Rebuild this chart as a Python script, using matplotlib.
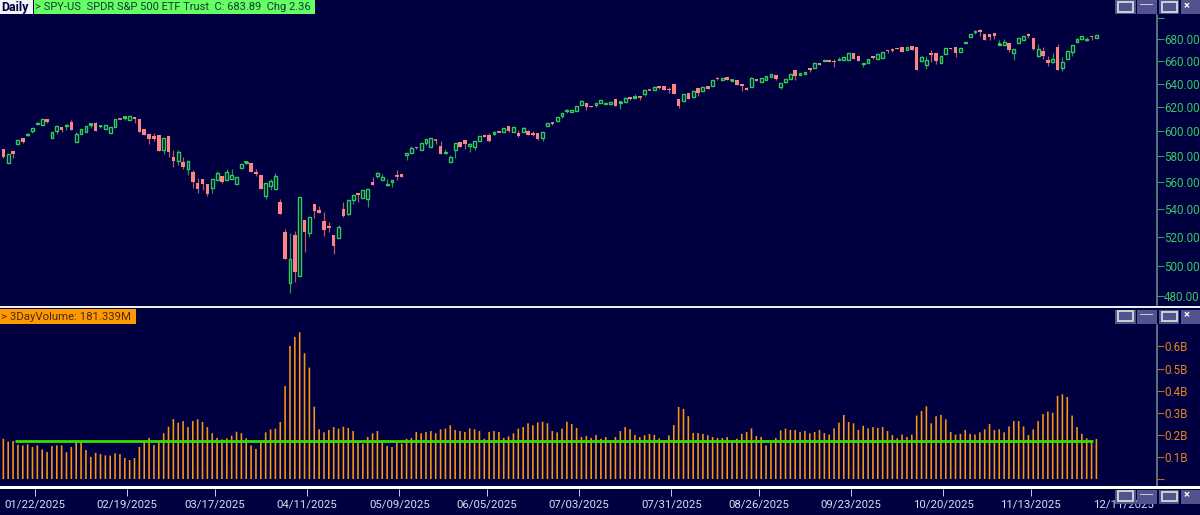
import numpy as np
import matplotlib
matplotlib.use("Agg")
import matplotlib.pyplot as plt
from matplotlib.patches import Rectangle
from matplotlib.ticker import NullLocator

# SPY daily bars, oldest first
opens = [
    585.8,575.1,584.5,589.6,594.4,596.8,600.2,605.8,605.3,609.9,
    594.6,600.0,603.3,604.0,607.7,591.7,597.6,599.5,605.5,606.9,
    604.0,602.2,598.9,603.9,610.2,611.0,609.6,611.8,610.2,602.2,
    597.6,596.3,597.1,585.0,596.5,579.8,576.4,575.6,570.5,567.9,
    559.7,562.3,558.7,556.0,562.0,564.8,562.0,562.8,558.7,570.7,
    575.1,575.1,567.9,565.6,549.5,557.2,554.7,545.5,523.8,488.8,
    521.7,493.0,532.1,523.1,544.0,539.6,531.4,527.8,521.2,519.6,
    540.1,536.7,546.5,552.2,548.5,547.5,560.2,564.6,562.0,557.7,
    560.0,565.6,566.6,581.4,582.9,587.7,585.3,590.4,587.7,593.3,
    587.9,582.4,575.9,585.3,591.2,593.0,588.5,587.1,592.0,597.1,
    597.3,598.1,600.0,599.8,604.2,599.5,598.7,599.8,600.0,598.7,
    598.4,594.9,604.0,608.0,608.8,612.7,616.6,615.7,617.1,622.2,
    623.3,621.3,621.9,623.3,622.5,622.5,627.2,623.6,624.1,629.0,
    628.1,629.2,631.3,634.7,634.7,637.8,638.4,635.8,639.8,626.7,
    625.5,631.8,628.7,636.4,633.3,637.8,638.1,645.1,643.0,645.7,
    642.7,643.0,639.5,636.7,637.5,644.2,641.9,643.6,646.0,647.4,
    637.5,641.9,643.9,651.8,648.0,648.3,653.5,654.1,658.0,659.8,
    661.3,660.1,661.3,661.3,661.3,666.9,664.8,657.1,658.6,664.5,
    662.2,662.7,669.9,670.2,671.4,672.3,669.6,673.6,672.6,660.1,
    656.8,667.2,667.2,658.6,666.6,671.7,672.3,667.8,676.0,682.1,
    686.1,688.3,684.6,684.9,685.5,674.8,674.5,676.3,667.5,676.0,
    679.4,684.6,680.6,664.8,669.3,661.3,658.9,672.6,654.1,662.2,
    668.1,677.2,680.3,679.1,682.9,680.6,
]
highs = [
    585.8,581.6,584.5,592.8,594.4,598.7,603.1,607.7,609.9,609.9,
    599.2,604.4,603.3,606.3,609.4,599.8,601.7,604.2,606.1,607.4,
    604.7,605.5,603.3,609.9,610.7,611.6,612.9,611.8,610.2,602.2,
    597.6,598.7,597.1,594.6,596.5,584.7,584.7,579.8,576.2,569.4,
    563.3,562.3,558.7,562.5,568.9,564.8,570.2,570.0,563.8,574.3,
    575.4,575.1,570.2,565.6,559.2,562.5,566.9,547.7,525.4,522.6,
    524.3,548.7,532.1,534.3,544.0,542.6,537.7,530.7,521.2,528.3,
    545.2,546.5,550.2,552.2,554.5,554.7,563.8,567.6,566.1,562.5,
    562.0,569.4,566.6,582.4,587.9,587.7,590.4,594.1,594.9,594.1,
    592.0,585.8,580.8,590.9,591.2,593.0,590.6,592.2,596.0,597.1,
    598.4,600.3,600.0,602.8,604.2,603.3,601.4,603.3,601.1,600.6,
    598.4,599.8,606.9,608.0,611.6,614.9,618.8,617.7,620.8,626.1,
    623.3,621.3,623.9,625.8,623.6,624.7,627.2,624.1,627.8,629.0,
    631.3,629.2,634.5,635.8,637.0,637.8,638.4,637.3,639.8,626.7,
    631.0,631.8,633.3,636.4,637.0,637.8,643.0,645.7,644.8,645.7,
    643.0,643.0,639.5,637.3,645.7,644.2,644.8,646.5,648.9,647.4,
    640.4,643.9,648.9,651.8,649.2,650.3,653.5,658.0,658.0,661.0,
    661.3,661.6,663.8,663.5,666.9,666.9,664.8,658.0,661.9,664.5,
    666.0,668.1,669.9,672.0,671.4,672.3,672.9,673.6,672.6,664.2,
    664.8,669.6,667.2,664.8,671.4,671.7,672.3,671.4,677.2,684.9,
    688.7,689.2,684.6,684.9,685.5,679.1,679.7,676.3,670.5,681.2,
    682.4,685.5,680.6,675.1,672.9,664.2,666.9,675.4,663.8,668.7,
    674.9,680.6,683.1,681.8,683.1,683.89,
]
lows = [
    579.0,575.1,579.0,589.6,590.6,596.0,598.9,605.8,605.3,606.9,
    594.6,597.9,599.5,600.9,601.4,591.2,597.6,599.5,602.5,600.0,
    602.8,602.2,598.9,603.9,609.9,609.1,609.6,606.9,599.5,596.8,
    589.6,592.2,584.5,581.9,579.8,572.0,573.3,570.5,565.6,556.0,
    552.2,554.2,550.0,552.0,562.0,559.2,562.0,562.8,558.7,570.7,
    574.3,567.9,565.1,555.2,547.2,554.2,554.7,536.7,505.0,481.7,
    489.2,493.0,509.5,520.0,533.8,537.4,520.7,523.8,508.4,519.6,
    534.0,535.5,543.8,545.0,548.5,541.8,558.2,563.6,562.0,557.2,
    556.5,561.8,563.8,577.2,582.9,585.5,585.3,589.3,587.7,589.6,
    581.6,581.6,575.9,579.0,587.1,585.8,583.7,585.0,592.0,595.7,
    591.7,596.8,599.2,599.8,599.5,599.5,595.5,599.8,597.1,596.0,
    593.0,592.0,604.0,605.5,608.8,610.7,615.2,615.7,617.1,622.2,
    617.7,619.9,620.5,623.3,622.5,622.5,621.3,618.5,624.1,626.4,
    628.1,626.1,629.8,634.2,634.7,635.8,634.7,632.1,631.3,619.6,
    625.5,627.2,628.7,629.6,633.3,635.2,638.1,643.3,643.0,643.3,
    642.7,639.3,633.3,634.2,637.5,642.2,641.9,643.6,646.0,643.3,
    635.2,640.4,643.9,643.3,648.0,648.3,650.3,654.1,656.8,659.8,
    659.5,654.7,661.3,660.7,661.3,662.2,660.4,654.4,658.6,661.6,
    662.2,662.7,666.9,668.1,670.5,667.8,669.6,670.2,652.3,660.1,
    652.9,659.5,657.4,658.6,666.6,670.5,663.3,667.8,676.0,682.1,
    684.9,682.8,679.4,679.1,680.0,674.8,674.5,668.4,661.3,676.0,
    679.4,680.9,670.2,663.3,662.2,655.6,657.8,651.8,651.2,662.2,
    664.8,677.2,680.3,677.9,679.1,680.6,
]
closes = [
    579.8,581.6,581.9,592.8,591.4,597.6,603.1,606.6,609.9,607.7,
    599.2,604.4,601.4,605.0,601.4,597.9,601.7,604.2,606.1,600.0,
    604.7,605.5,603.3,609.9,609.9,611.6,612.9,610.2,599.5,596.8,
    594.1,593.8,584.5,594.6,583.4,576.2,583.4,572.0,576.2,560.2,
    555.2,558.7,551.2,562.5,567.4,560.5,567.6,565.3,563.8,574.3,
    575.4,567.9,566.6,555.2,559.2,561.0,564.6,536.7,505.0,504.5,
    495.9,548.7,523.8,534.3,538.9,537.4,525.0,526.2,513.9,527.1,
    534.7,546.5,550.2,550.7,554.5,554.7,558.2,567.1,564.1,558.7,
    562.0,565.1,563.8,582.4,586.9,586.3,590.4,594.1,594.9,592.8,
    582.1,583.4,579.3,590.9,587.1,589.8,589.6,592.2,596.0,595.7,
    592.5,599.2,599.2,602.8,600.3,603.3,596.3,602.5,597.1,596.8,
    593.8,599.8,606.9,607.2,611.6,614.9,617.7,617.7,620.8,625.3,
    620.2,619.9,623.9,625.8,623.6,624.7,621.3,624.1,627.8,627.2,
    628.7,628.7,634.5,634.2,637.0,636.7,634.7,634.2,631.3,621.0,
    631.0,627.2,633.3,632.1,637.0,635.2,643.0,644.2,644.8,643.3,
    643.0,639.3,638.1,634.9,644.8,642.2,644.8,646.5,648.9,644.5,
    640.4,643.9,648.9,646.8,649.2,650.3,651.8,658.0,656.8,661.0,
    659.5,658.9,662.2,663.5,666.9,662.2,660.4,658.0,661.9,663.0,
    666.0,668.1,669.0,669.6,670.5,667.8,672.9,670.2,652.3,663.3,
    661.3,665.1,659.8,664.8,671.4,670.5,667.5,671.4,677.2,684.9,
    687.4,686.8,679.4,681.8,682.4,675.4,677.5,669.6,670.5,681.2,
    682.4,682.8,671.1,671.1,664.5,658.6,662.2,651.8,658.9,668.7,
    674.9,679.7,683.1,680.3,681.53,683.89,
]

# 3 day volume in billions of shares
volume = [
    .182,.169,.172,.155,.152,.157,.145,.152,.134,.122,
    .149,.152,.152,.121,.145,.170,.170,.131,.100,.118,
    .113,.107,.106,.116,.113,.095,.086,.095,.145,.170,
    .186,.154,.170,.207,.237,.271,.255,.262,.235,.262,
    .270,.258,.235,.207,.186,.179,.184,.196,.214,.207,
    .184,.152,.136,.169,.211,.225,.228,.258,.421,.602,
    .643,.664,.569,.504,.327,.225,.211,.222,.235,.228,
    .237,.231,.217,.169,.160,.190,.207,.217,.166,.149,
    .145,.169,.160,.182,.186,.213,.207,.213,.217,.207,
    .225,.228,.243,.222,.217,.213,.229,.225,.217,.182,
    .213,.217,.213,.186,.193,.207,.228,.235,.252,.243,
    .256,.259,.252,.217,.211,.228,.259,.249,.231,.190,
    .195,.186,.199,.182,.190,.175,.190,.217,.235,.225,
    .199,.190,.198,.204,.199,.184,.175,.198,.244,.326,
    .317,.284,.208,.208,.204,.198,.190,.186,.186,.190,
    .172,.182,.204,.213,.229,.195,.190,.152,.163,.186,
    .220,.228,.222,.222,.213,.217,.207,.213,.222,.208,
    .201,.229,.255,.290,.258,.252,.222,.241,.229,.235,
    .231,.235,.217,.199,.184,.201,.190,.201,.287,.308,
    .329,.252,.284,.290,.270,.213,.201,.204,.222,.204,
    .201,.211,.225,.249,.222,.225,.211,.238,.262,.262,
    .238,.199,.225,.262,.294,.305,.300,.376,.383,.371,
    .287,.235,.204,.184,.176,.181339,
]
avg_volume = 0.174

price_ticks = [480, 500, 520, 540, 560, 580, 600, 620, 640, 660, 680, 700]
volume_ticks = [0, 0.1, 0.2, 0.3, 0.4, 0.5, 0.6]
date_labels = ["01/22/2025", "02/19/2025", "03/17/2025", "04/11/2025", "05/09/2025",
               "06/05/2025", "07/03/2025", "07/31/2025", "08/26/2025", "09/23/2025",
               "10/20/2025", "11/13/2025", "12/11/2025"]
date_bars = [6.5, 25.5, 43.5, 62.5, 81.5, 99.5, 118.5, 137.5, 155.5, 174.5, 193.5, 211.5, 230.5]

W, H = 1200, 515
BG = "#000040"
AXIS_X = 1157
px = 0.72  # points per pixel at dpi 100

plt.rcParams["font.family"] = ["Roboto", "DejaVu Sans"]


def fig_box(x0, y0, x1, y1):
    # pixel box, y measured from the top edge
    return [x0 / W, 1 - y1 / H, (x1 - x0) / W, (y1 - y0) / H]


def add_rect(fig, x0, y0, x1, y1, face="none", edge="none", lw=0.0, z=10):
    l, b, w, h = fig_box(x0, y0, x1, y1)
    fig.add_artist(Rectangle((l, b), w, h, transform=fig.transFigure, facecolor=face,
                             edgecolor=edge, linewidth=lw, zorder=z))


def add_buttons(fig, y):
    for x0, x1 in [(1115, 1136), (1137, 1157), (1159, 1179), (1181, 1200)]:
        add_rect(fig, x0, y, x1, y + 14, face="#52528e")
    add_rect(fig, 1118, y + 1.5, 1133, y + 11.5, edge="#c9d4d0", lw=1.4, z=11)
    add_rect(fig, 1140, y + 4, 1153, y + 5, face="#c8c8d8", z=11)
    add_rect(fig, 1162, y + 2.5, 1177, y + 11.5, edge="#c9d4d0", lw=1.4, z=11)
    fig.text(1187 / W, 1 - (y + 6) / H, "×", color="white", fontsize=8, fontweight="bold",
             ha="center", va="center", zorder=11)


x = np.arange(len(closes))
o, h, l, c = map(np.array, (opens, highs, lows, closes))
up = c >= o
xlim = (-0.686, 237.47)

fig = plt.figure(figsize=(W / 100, H / 100), dpi=100, facecolor=BG)

# candles, log price scale
ax = fig.add_axes(fig_box(0, 0, AXIS_X, 305), facecolor=BG)
ax.set_yscale("log")
ax.set_xlim(*xlim)
ax.set_ylim(474.2, 716.9)
ax.vlines(x[up], l[up], h[up], color="#1f9c48", lw=1.2 * px, zorder=2)
ax.vlines(x[~up], l[~up], h[~up], color="#b85c60", lw=1.2 * px, zorder=2)
ax.bar(x[up], (c - o)[up], bottom=o[up], width=0.58, facecolor=BG, edgecolor="#2fcc55",
       linewidth=1.4 * px, zorder=3)
ax.bar(x[~up], (c - o)[~up], bottom=o[~up], width=0.72, color="#fb8484", linewidth=0, zorder=3)
# dojis have next to no body, give them a visible stroke
flat = np.abs(c - o) < 0.8
ax.hlines(c[flat], x[flat] - 0.36, x[flat] + 0.36,
          color=["#35e05c" if u else "#fb8484" for u in up[flat]], lw=1.6 * px, zorder=4)

ax.yaxis.tick_right()
ax.yaxis.set_minor_locator(NullLocator())
ax.set_yticks(price_ticks)
ax.set_yticklabels([f"{p:.2f}" if p < 700 else "" for p in price_ticks])
ax.tick_params(axis="y", which="major", length=6.5 * px, width=1.1 * px, color="#2f9a55",
               labelcolor="#35c860", labelsize=8.4, pad=0.5)
ax.set_xticks([])
for name in ("top", "left", "bottom"):
    ax.spines[name].set_visible(False)
ax.spines["right"].set_color("#70978c")
ax.spines["right"].set_linewidth(1.5 * px)
ax.spines["right"].set_bounds(474.2, 680 * np.exp(24 / 738))

# volume bars with the flat average line
vax = fig.add_axes(fig_box(0, 309, AXIS_X, 486), facecolor=BG)
vax.set_xlim(*xlim)
vax.set_ylim(-7 / 221, 170 / 221)
vbars = vax.bar(x, volume, width=0.33, color="#fa960a", linewidth=0, zorder=2)
for b in vbars:
    b.set_snap(False)
vax.hlines(avg_volume, x[2] + 0.4, x[-2] + 0.3, color="#33e000", lw=2.8 * px, zorder=3)
vax.yaxis.tick_right()
vax.set_yticks(volume_ticks)
vax.set_yticklabels([f"{v:.1f}B" if v > 0 else "" for v in volume_ticks])
vax.tick_params(axis="y", length=6.5 * px, width=1.1 * px, color="#b86a18",
                labelcolor="#e0851a", labelsize=8.4, pad=0.5)
vax.set_xticks([])
for name in ("top", "left", "bottom"):
    vax.spines[name].set_visible(False)
vax.spines["right"].set_color("#70978c")
vax.spines["right"].set_linewidth(1.5 * px)
vax.spines["right"].set_bounds(-7 / 221, 154 / 221)

# date strip
dax = fig.add_axes(fig_box(0, 489, AXIS_X, 515), facecolor=BG)
dax.set_xlim(*xlim)
dax.set_ylim(0, 1)
dax.set_yticks([])
dax.set_xticks(date_bars[:-1])
dax.xaxis.tick_top()
dax.tick_params(axis="x", direction="in", length=6.5 * px, width=1.0 * px, color="#c4c8dc",
                labeltop=False)
for name in dax.spines:
    dax.spines[name].set_visible(False)
for pos, label in zip(date_bars, date_labels):
    dax.text(pos, 0.42, label, color="#cfe2f6", fontsize=8.2, ha="center", va="center")

# panel separators
add_rect(fig, 0, 306, W, 308, face="#e4f2ee", z=5)
add_rect(fig, 0, 486, W, 489, face="#ffffff", z=5)

# header tags
add_rect(fig, 0, 0, 33, 14.5, face="#f2f2fa")
add_rect(fig, 33.5, 0, 315, 14.5, face="#66ff66")
add_rect(fig, 0, 309, 136, 323.5, face="#ff9900")
fig.text(1 / W, 1 - 7.5 / H, "Daily", color="#000040", fontsize=9, fontweight="bold",
         va="center", zorder=11)
change = closes[-1] - closes[-2]
fig.text(35 / W, 1 - 7.5 / H,
         f"> SPY-US  SPDR S&P 500 ETF Trust  C: {closes[-1]:.2f}  Chg {change:.2f}",
         color="#0c3c2c", fontsize=8.0, va="center", zorder=11)
fig.text(1 / W, 1 - 316.5 / H, f"> 3DayVolume: {volume[-1] * 1000:.3f}M", color="#4a2a10",
         fontsize=8.2, va="center", zorder=11)

for y_top in (0, 309.5, 489.5):
    add_buttons(fig, y_top)

fig.savefig("out.png", dpi=100, facecolor=BG)
